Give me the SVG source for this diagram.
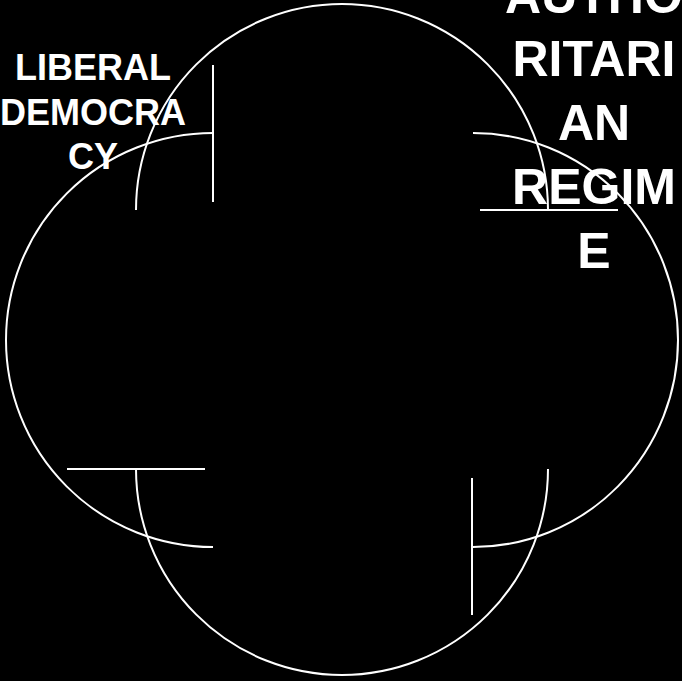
<svg xmlns="http://www.w3.org/2000/svg" width="682" height="681" viewBox="0 0 682 681">
<style>
.ln{fill:none;stroke:#ffffff;stroke-width:2}
.lb{fill:#ffffff;font-family:"Liberation Sans",Arial,sans-serif;font-weight:bold;text-anchor:middle}
</style>
<rect width="682" height="681" fill="#000000"/>
<g id="shapes">
<path class="ln" d="M213,133 A207,207 0 0 0 213,547"/>
<path class="ln" d="M473,133 A205,207 0 0 1 473,547"/>
<path class="ln" d="M136,210 A206,206 0 0 1 548,210"/>
<path class="ln" d="M136,469 A206,206 0 0 0 548,469"/>
</g>
<g id="connectors">
<line class="ln" x1="213" y1="65" x2="213" y2="202"/>
<line class="ln" x1="472" y1="478" x2="472" y2="615"/>
<line class="ln" x1="480" y1="210" x2="618" y2="210"/>
<line class="ln" x1="67" y1="469" x2="205" y2="469"/>
</g>
<g id="liberal-democracy">
<text class="lb" font-size="36" x="93" y="80">LIBERAL</text>
<text class="lb" font-size="36" x="93" y="125">DEMOCRA</text>
<text class="lb" font-size="36" x="93" y="169">CY</text>
</g>
<g id="authoritarian-regime">
<text class="lb" font-size="50" x="594" y="13">AUTHO</text>
<text class="lb" font-size="50" x="594" y="76">RITARI</text>
<text class="lb" font-size="50" x="594" y="140">AN</text>
<text class="lb" font-size="50" x="594" y="204">REGIM</text>
<text class="lb" font-size="50" x="594" y="268">E</text>
</g>
</svg>
